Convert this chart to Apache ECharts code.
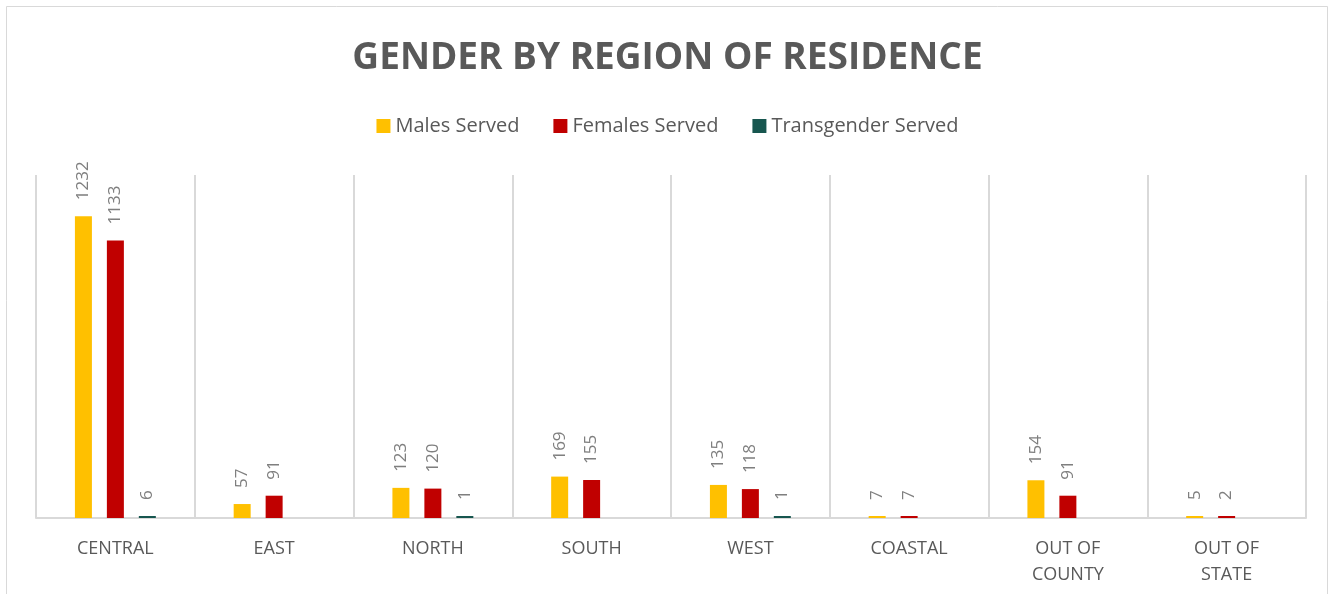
<!DOCTYPE html>
<html>
<head>
    <meta charset="utf-8">
    <title>Gender by Region of Residence</title>
    <style>
        html, body { margin: 0; padding: 0; background: #fff; }
        #main { width: 1335px; height: 594px; }
    </style>
</head>
<body>
    <div id="main"></div>
    <script src="https://cdn.jsdelivr.net/npm/echarts@6/dist/echarts.min.js"></script>
    <script type="text/javascript">

        const REGIONS = ['CENTRAL', 'EAST', 'NORTH', 'SOUTH', 'WEST', 'COASTAL', 'OUT OF\nCOUNTY', 'OUT OF\nSTATE'];
        const MALES = [1232, 57, 123, 169, 135, 7, 154, 5];
        const FEMALES = [1133, 91, 120, 155, 118, 7, 91, 2];
        const TRANSGENDER = [6, null, 1, null, 1, null, null, null];

        const SERIES_NAMES = ['Males Served', 'Females Served', 'Transgender Served'];
        const COLORS = ['#FFC000', '#C00000', '#17564F'];

        let myChart = echarts.init(document.getElementById('main'));

        function makeSeries(name, data, color) {
            return {
                name: name,
                type: 'bar',
                data: data,
                barWidth: 17,
                barGap: '88%',
                barMinHeight: 2,
                itemStyle: { color: color },
                label: {
                    show: true,
                    position: 'top',
                    rotate: 90,
                    align: 'left',
                    verticalAlign: 'middle',
                    distance: 16,
                    color: '#7f7f7f',
                    fontFamily: 'Open Sans',
                    fontSize: 17
                }
            };
        }

        const option = {
            backgroundColor: '#fff',
            animation: false,
            color: COLORS,
            title: {
                text: 'GENDER BY REGION OF RESIDENCE',
                left: 'center',
                top: 35,
                textStyle: {
                    color: '#595959',
                    fontFamily: 'Open Sans',
                    fontWeight: 'bold',
                    fontSize: 37
                }
            },
            legend: {
                top: 111,
                left: 'center',
                itemWidth: 14,
                itemHeight: 14,
                itemGap: 34,
                icon: 'rect',
                textStyle: {
                    color: '#595959',
                    fontFamily: 'Open Sans',
                    fontSize: 20
                },
                data: SERIES_NAMES
            },
            graphic: [{
                type: 'rect',
                shape: { x: 6.5, y: 6.5, width: 1321, height: 600 },
                style: { fill: 'none', stroke: '#d9d9d9', lineWidth: 1 },
                silent: true
            }],
            grid: {
                left: 36,
                right: 29,
                top: 175,
                bottom: 76,
                containLabel: false
            },
            xAxis: {
                type: 'category',
                data: REGIONS,
                axisLine: { lineStyle: { color: '#d9d9d9', width: 2 } },
                axisTick: { show: false },
                splitLine: { show: true, lineStyle: { color: '#d9d9d9', width: 2 } },
                axisLabel: {
                    color: '#595959',
                    fontFamily: 'Open Sans',
                    fontSize: 18,
                    lineHeight: 26,
                    margin: 18,
                    interval: 0
                }
            },
            yAxis: {
                type: 'value',
                min: 0,
                max: 1400,
                show: false,
                splitLine: { show: false }
            },
            series: [
                makeSeries(SERIES_NAMES[0], MALES, COLORS[0]),
                makeSeries(SERIES_NAMES[1], FEMALES, COLORS[1]),
                makeSeries(SERIES_NAMES[2], TRANSGENDER, COLORS[2])
            ]
        };

        myChart.setOption(option);

    </script>
</body>
</html>
